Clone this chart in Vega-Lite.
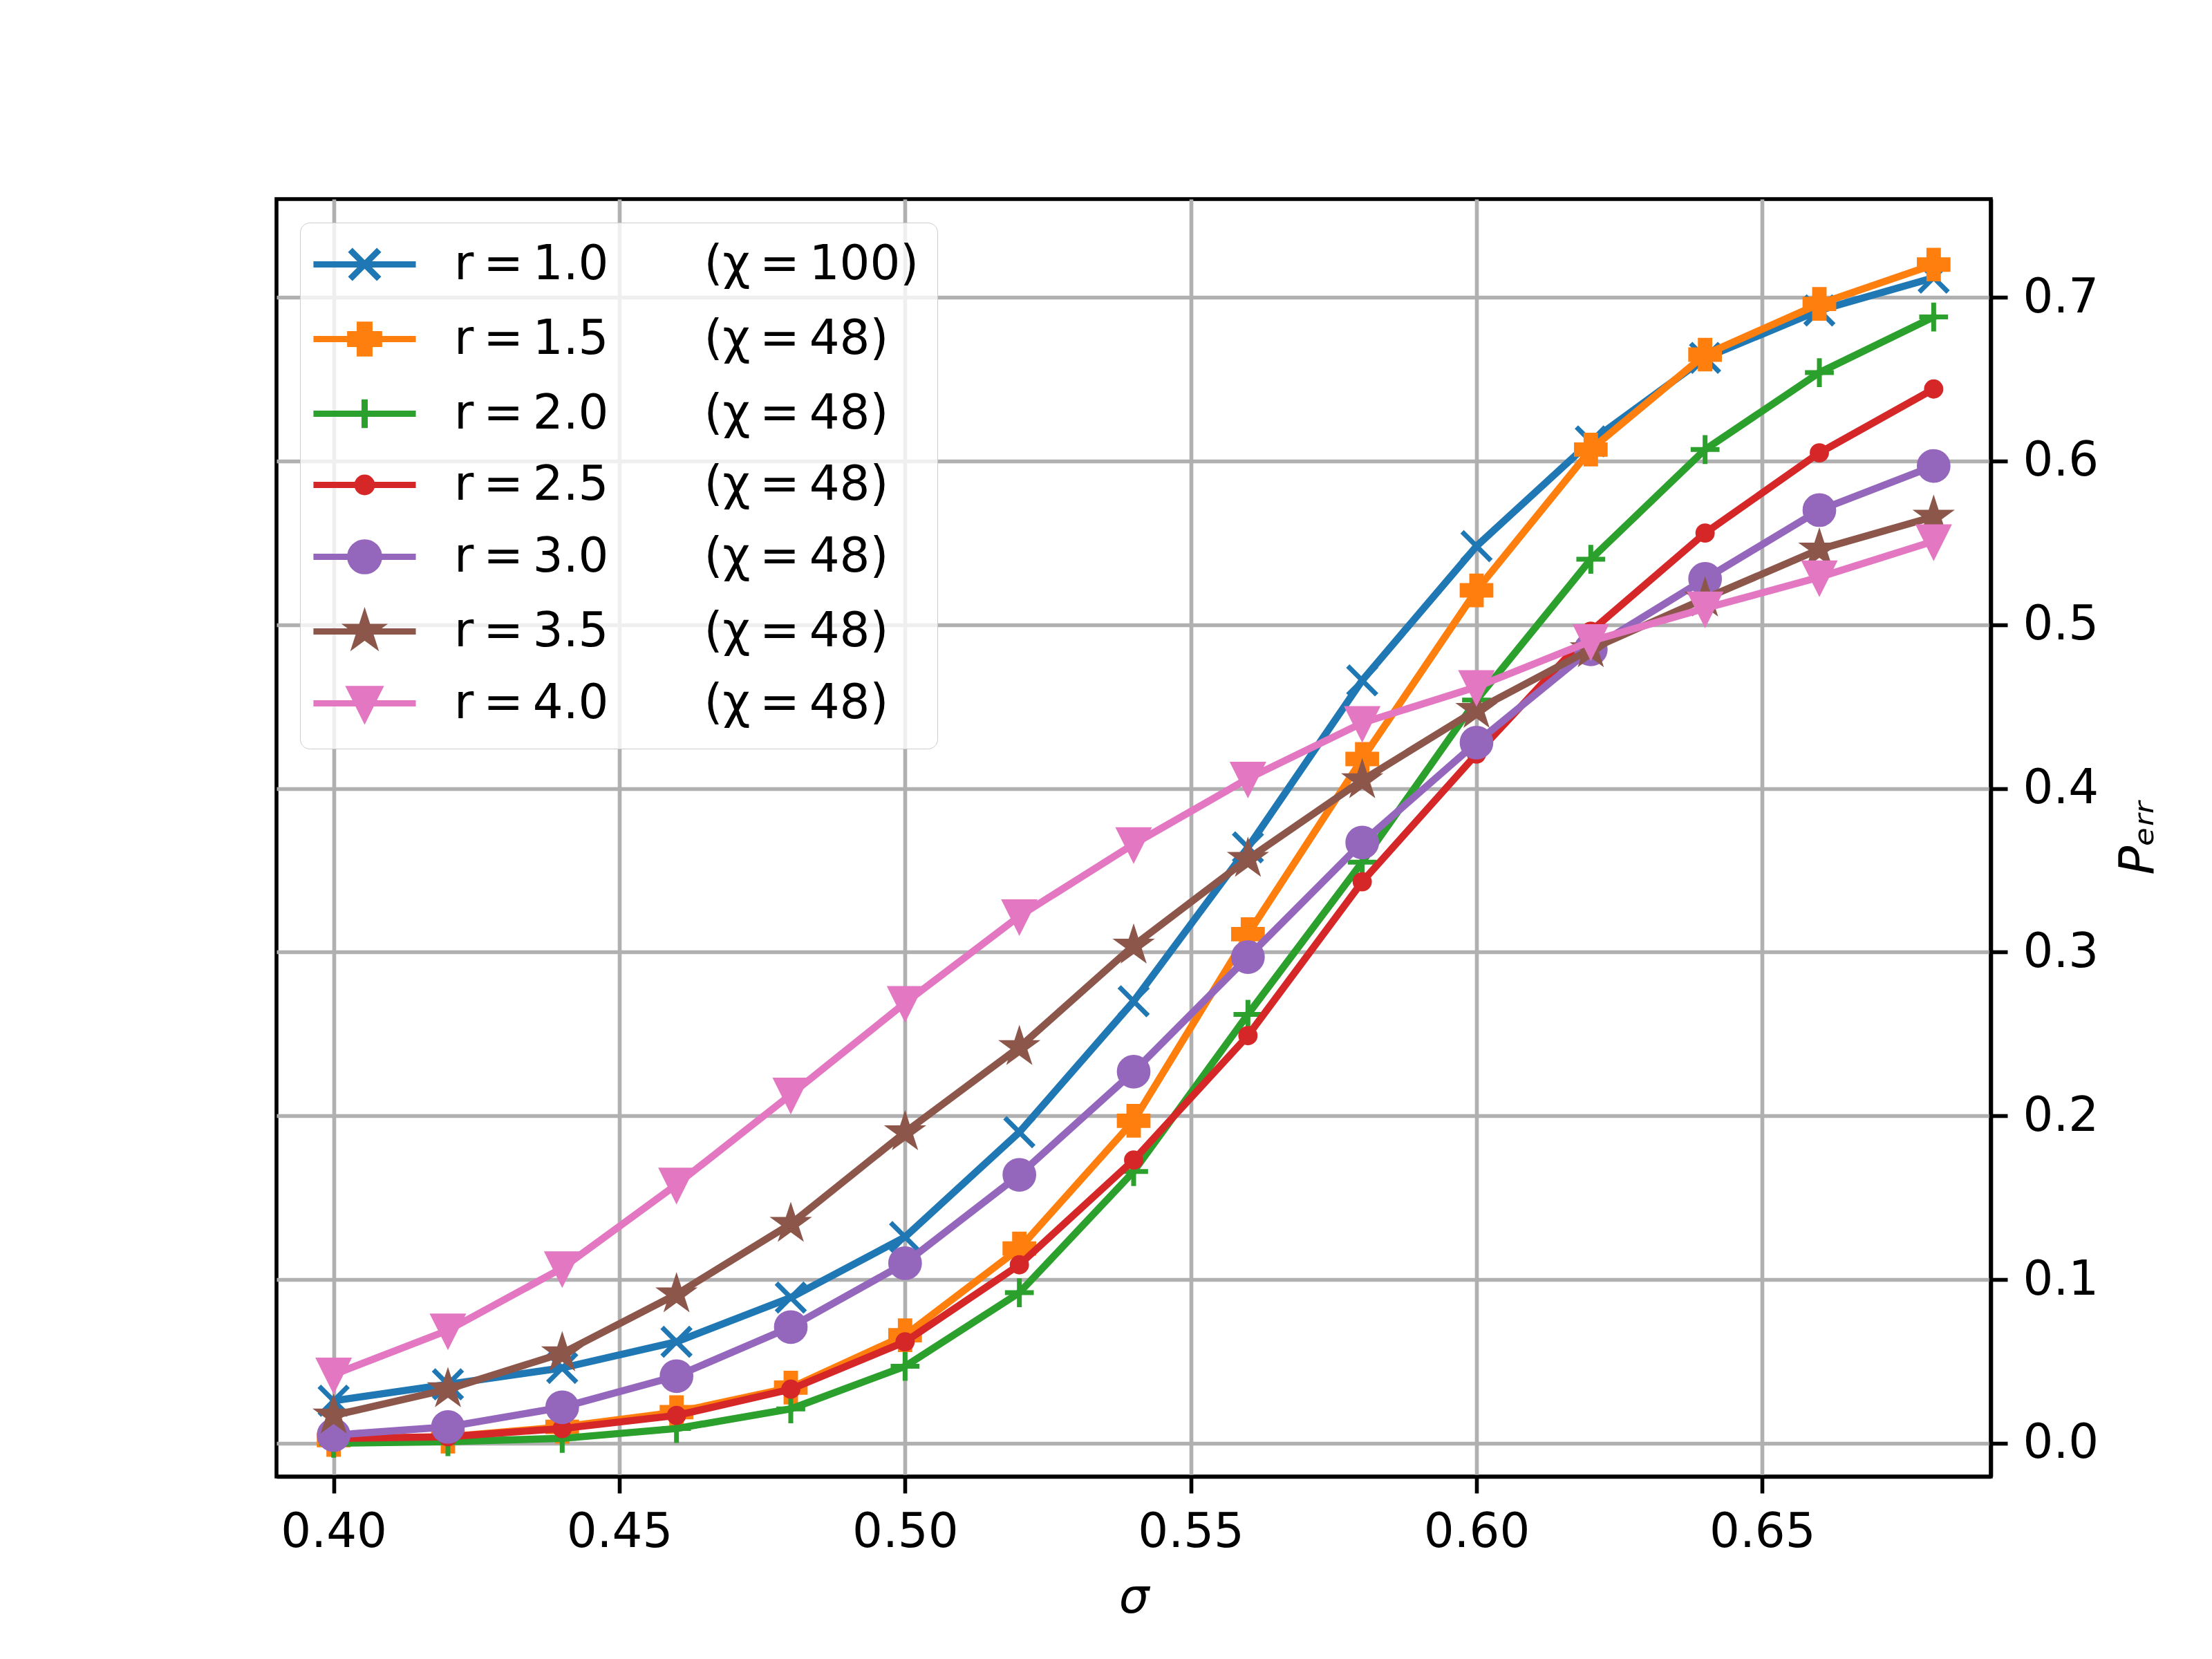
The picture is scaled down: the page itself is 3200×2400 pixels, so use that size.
{
  "$schema": "https://vega.github.io/schema/vega-lite/v6.json",
  "width": 2480,
  "height": 1848,
  "autosize": {"type": "none"},
  "padding": {"left": 400, "top": 288, "right": 320, "bottom": 264},
  "background": "white",
  "datasets": {
    "perr": [
      {"sigma": 0.40, "p": 0.026, "series": "r\u2009=\u20091.0\u2003\u2003(χ\u2009=\u2009100)"},
      {"sigma": 0.42, "p": 0.036, "series": "r\u2009=\u20091.0\u2003\u2003(χ\u2009=\u2009100)"},
      {"sigma": 0.44, "p": 0.046, "series": "r\u2009=\u20091.0\u2003\u2003(χ\u2009=\u2009100)"},
      {"sigma": 0.46, "p": 0.062, "series": "r\u2009=\u20091.0\u2003\u2003(χ\u2009=\u2009100)"},
      {"sigma": 0.48, "p": 0.089, "series": "r\u2009=\u20091.0\u2003\u2003(χ\u2009=\u2009100)"},
      {"sigma": 0.50, "p": 0.126, "series": "r\u2009=\u20091.0\u2003\u2003(χ\u2009=\u2009100)"},
      {"sigma": 0.52, "p": 0.190, "series": "r\u2009=\u20091.0\u2003\u2003(χ\u2009=\u2009100)"},
      {"sigma": 0.54, "p": 0.270, "series": "r\u2009=\u20091.0\u2003\u2003(χ\u2009=\u2009100)"},
      {"sigma": 0.56, "p": 0.364, "series": "r\u2009=\u20091.0\u2003\u2003(χ\u2009=\u2009100)"},
      {"sigma": 0.58, "p": 0.466, "series": "r\u2009=\u20091.0\u2003\u2003(χ\u2009=\u2009100)"},
      {"sigma": 0.60, "p": 0.548, "series": "r\u2009=\u20091.0\u2003\u2003(χ\u2009=\u2009100)"},
      {"sigma": 0.62, "p": 0.612, "series": "r\u2009=\u20091.0\u2003\u2003(χ\u2009=\u2009100)"},
      {"sigma": 0.64, "p": 0.663, "series": "r\u2009=\u20091.0\u2003\u2003(χ\u2009=\u2009100)"},
      {"sigma": 0.66, "p": 0.692, "series": "r\u2009=\u20091.0\u2003\u2003(χ\u2009=\u2009100)"},
      {"sigma": 0.68, "p": 0.712, "series": "r\u2009=\u20091.0\u2003\u2003(χ\u2009=\u2009100)"},
      {"sigma": 0.40, "p": 0.002, "series": "r\u2009=\u20091.5\u2003\u2003(χ\u2009=\u200948)"},
      {"sigma": 0.42, "p": 0.004, "series": "r\u2009=\u20091.5\u2003\u2003(χ\u2009=\u200948)"},
      {"sigma": 0.44, "p": 0.010, "series": "r\u2009=\u20091.5\u2003\u2003(χ\u2009=\u200948)"},
      {"sigma": 0.46, "p": 0.019, "series": "r\u2009=\u20091.5\u2003\u2003(χ\u2009=\u200948)"},
      {"sigma": 0.48, "p": 0.034, "series": "r\u2009=\u20091.5\u2003\u2003(χ\u2009=\u200948)"},
      {"sigma": 0.50, "p": 0.066, "series": "r\u2009=\u20091.5\u2003\u2003(χ\u2009=\u200948)"},
      {"sigma": 0.52, "p": 0.119, "series": "r\u2009=\u20091.5\u2003\u2003(χ\u2009=\u200948)"},
      {"sigma": 0.54, "p": 0.197, "series": "r\u2009=\u20091.5\u2003\u2003(χ\u2009=\u200948)"},
      {"sigma": 0.56, "p": 0.311, "series": "r\u2009=\u20091.5\u2003\u2003(χ\u2009=\u200948)"},
      {"sigma": 0.58, "p": 0.418, "series": "r\u2009=\u20091.5\u2003\u2003(χ\u2009=\u200948)"},
      {"sigma": 0.60, "p": 0.521, "series": "r\u2009=\u20091.5\u2003\u2003(χ\u2009=\u200948)"},
      {"sigma": 0.62, "p": 0.607, "series": "r\u2009=\u20091.5\u2003\u2003(χ\u2009=\u200948)"},
      {"sigma": 0.64, "p": 0.665, "series": "r\u2009=\u20091.5\u2003\u2003(χ\u2009=\u200948)"},
      {"sigma": 0.66, "p": 0.696, "series": "r\u2009=\u20091.5\u2003\u2003(χ\u2009=\u200948)"},
      {"sigma": 0.68, "p": 0.720, "series": "r\u2009=\u20091.5\u2003\u2003(χ\u2009=\u200948)"},
      {"sigma": 0.40, "p": 0.000, "series": "r\u2009=\u20092.0\u2003\u2003(χ\u2009=\u200948)"},
      {"sigma": 0.42, "p": 0.001, "series": "r\u2009=\u20092.0\u2003\u2003(χ\u2009=\u200948)"},
      {"sigma": 0.44, "p": 0.003, "series": "r\u2009=\u20092.0\u2003\u2003(χ\u2009=\u200948)"},
      {"sigma": 0.46, "p": 0.009, "series": "r\u2009=\u20092.0\u2003\u2003(χ\u2009=\u200948)"},
      {"sigma": 0.48, "p": 0.021, "series": "r\u2009=\u20092.0\u2003\u2003(χ\u2009=\u200948)"},
      {"sigma": 0.50, "p": 0.047, "series": "r\u2009=\u20092.0\u2003\u2003(χ\u2009=\u200948)"},
      {"sigma": 0.52, "p": 0.092, "series": "r\u2009=\u20092.0\u2003\u2003(χ\u2009=\u200948)"},
      {"sigma": 0.54, "p": 0.166, "series": "r\u2009=\u20092.0\u2003\u2003(χ\u2009=\u200948)"},
      {"sigma": 0.56, "p": 0.262, "series": "r\u2009=\u20092.0\u2003\u2003(χ\u2009=\u200948)"},
      {"sigma": 0.58, "p": 0.355, "series": "r\u2009=\u20092.0\u2003\u2003(χ\u2009=\u200948)"},
      {"sigma": 0.60, "p": 0.454, "series": "r\u2009=\u20092.0\u2003\u2003(χ\u2009=\u200948)"},
      {"sigma": 0.62, "p": 0.540, "series": "r\u2009=\u20092.0\u2003\u2003(χ\u2009=\u200948)"},
      {"sigma": 0.64, "p": 0.607, "series": "r\u2009=\u20092.0\u2003\u2003(χ\u2009=\u200948)"},
      {"sigma": 0.66, "p": 0.654, "series": "r\u2009=\u20092.0\u2003\u2003(χ\u2009=\u200948)"},
      {"sigma": 0.68, "p": 0.688, "series": "r\u2009=\u20092.0\u2003\u2003(χ\u2009=\u200948)"},
      {"sigma": 0.40, "p": 0.003, "series": "r\u2009=\u20092.5\u2003\u2003(χ\u2009=\u200948)"},
      {"sigma": 0.42, "p": 0.004, "series": "r\u2009=\u20092.5\u2003\u2003(χ\u2009=\u200948)"},
      {"sigma": 0.44, "p": 0.009, "series": "r\u2009=\u20092.5\u2003\u2003(χ\u2009=\u200948)"},
      {"sigma": 0.46, "p": 0.017, "series": "r\u2009=\u20092.5\u2003\u2003(χ\u2009=\u200948)"},
      {"sigma": 0.48, "p": 0.033, "series": "r\u2009=\u20092.5\u2003\u2003(χ\u2009=\u200948)"},
      {"sigma": 0.50, "p": 0.062, "series": "r\u2009=\u20092.5\u2003\u2003(χ\u2009=\u200948)"},
      {"sigma": 0.52, "p": 0.109, "series": "r\u2009=\u20092.5\u2003\u2003(χ\u2009=\u200948)"},
      {"sigma": 0.54, "p": 0.173, "series": "r\u2009=\u20092.5\u2003\u2003(χ\u2009=\u200948)"},
      {"sigma": 0.56, "p": 0.249, "series": "r\u2009=\u20092.5\u2003\u2003(χ\u2009=\u200948)"},
      {"sigma": 0.58, "p": 0.343, "series": "r\u2009=\u20092.5\u2003\u2003(χ\u2009=\u200948)"},
      {"sigma": 0.60, "p": 0.421, "series": "r\u2009=\u20092.5\u2003\u2003(χ\u2009=\u200948)"},
      {"sigma": 0.62, "p": 0.496, "series": "r\u2009=\u20092.5\u2003\u2003(χ\u2009=\u200948)"},
      {"sigma": 0.64, "p": 0.556, "series": "r\u2009=\u20092.5\u2003\u2003(χ\u2009=\u200948)"},
      {"sigma": 0.66, "p": 0.605, "series": "r\u2009=\u20092.5\u2003\u2003(χ\u2009=\u200948)"},
      {"sigma": 0.68, "p": 0.644, "series": "r\u2009=\u20092.5\u2003\u2003(χ\u2009=\u200948)"},
      {"sigma": 0.40, "p": 0.005, "series": "r\u2009=\u20093.0\u2003\u2003(χ\u2009=\u200948)"},
      {"sigma": 0.42, "p": 0.010, "series": "r\u2009=\u20093.0\u2003\u2003(χ\u2009=\u200948)"},
      {"sigma": 0.44, "p": 0.022, "series": "r\u2009=\u20093.0\u2003\u2003(χ\u2009=\u200948)"},
      {"sigma": 0.46, "p": 0.041, "series": "r\u2009=\u20093.0\u2003\u2003(χ\u2009=\u200948)"},
      {"sigma": 0.48, "p": 0.071, "series": "r\u2009=\u20093.0\u2003\u2003(χ\u2009=\u200948)"},
      {"sigma": 0.50, "p": 0.110, "series": "r\u2009=\u20093.0\u2003\u2003(χ\u2009=\u200948)"},
      {"sigma": 0.52, "p": 0.164, "series": "r\u2009=\u20093.0\u2003\u2003(χ\u2009=\u200948)"},
      {"sigma": 0.54, "p": 0.227, "series": "r\u2009=\u20093.0\u2003\u2003(χ\u2009=\u200948)"},
      {"sigma": 0.56, "p": 0.297, "series": "r\u2009=\u20093.0\u2003\u2003(χ\u2009=\u200948)"},
      {"sigma": 0.58, "p": 0.367, "series": "r\u2009=\u20093.0\u2003\u2003(χ\u2009=\u200948)"},
      {"sigma": 0.60, "p": 0.428, "series": "r\u2009=\u20093.0\u2003\u2003(χ\u2009=\u200948)"},
      {"sigma": 0.62, "p": 0.485, "series": "r\u2009=\u20093.0\u2003\u2003(χ\u2009=\u200948)"},
      {"sigma": 0.64, "p": 0.528, "series": "r\u2009=\u20093.0\u2003\u2003(χ\u2009=\u200948)"},
      {"sigma": 0.66, "p": 0.570, "series": "r\u2009=\u20093.0\u2003\u2003(χ\u2009=\u200948)"},
      {"sigma": 0.68, "p": 0.597, "series": "r\u2009=\u20093.0\u2003\u2003(χ\u2009=\u200948)"},
      {"sigma": 0.40, "p": 0.017, "series": "r\u2009=\u20093.5\u2003\u2003(χ\u2009=\u200948)"},
      {"sigma": 0.42, "p": 0.033, "series": "r\u2009=\u20093.5\u2003\u2003(χ\u2009=\u200948)"},
      {"sigma": 0.44, "p": 0.055, "series": "r\u2009=\u20093.5\u2003\u2003(χ\u2009=\u200948)"},
      {"sigma": 0.46, "p": 0.091, "series": "r\u2009=\u20093.5\u2003\u2003(χ\u2009=\u200948)"},
      {"sigma": 0.48, "p": 0.134, "series": "r\u2009=\u20093.5\u2003\u2003(χ\u2009=\u200948)"},
      {"sigma": 0.50, "p": 0.190, "series": "r\u2009=\u20093.5\u2003\u2003(χ\u2009=\u200948)"},
      {"sigma": 0.52, "p": 0.242, "series": "r\u2009=\u20093.5\u2003\u2003(χ\u2009=\u200948)"},
      {"sigma": 0.54, "p": 0.304, "series": "r\u2009=\u20093.5\u2003\u2003(χ\u2009=\u200948)"},
      {"sigma": 0.56, "p": 0.357, "series": "r\u2009=\u20093.5\u2003\u2003(χ\u2009=\u200948)"},
      {"sigma": 0.58, "p": 0.405, "series": "r\u2009=\u20093.5\u2003\u2003(χ\u2009=\u200948)"},
      {"sigma": 0.60, "p": 0.448, "series": "r\u2009=\u20093.5\u2003\u2003(χ\u2009=\u200948)"},
      {"sigma": 0.62, "p": 0.485, "series": "r\u2009=\u20093.5\u2003\u2003(χ\u2009=\u200948)"},
      {"sigma": 0.64, "p": 0.516, "series": "r\u2009=\u20093.5\u2003\u2003(χ\u2009=\u200948)"},
      {"sigma": 0.66, "p": 0.546, "series": "r\u2009=\u20093.5\u2003\u2003(χ\u2009=\u200948)"},
      {"sigma": 0.68, "p": 0.566, "series": "r\u2009=\u20093.5\u2003\u2003(χ\u2009=\u200948)"},
      {"sigma": 0.40, "p": 0.042, "series": "r\u2009=\u20094.0\u2003\u2003(χ\u2009=\u200948)"},
      {"sigma": 0.42, "p": 0.069, "series": "r\u2009=\u20094.0\u2003\u2003(χ\u2009=\u200948)"},
      {"sigma": 0.44, "p": 0.107, "series": "r\u2009=\u20094.0\u2003\u2003(χ\u2009=\u200948)"},
      {"sigma": 0.46, "p": 0.158, "series": "r\u2009=\u20094.0\u2003\u2003(χ\u2009=\u200948)"},
      {"sigma": 0.48, "p": 0.213, "series": "r\u2009=\u20094.0\u2003\u2003(χ\u2009=\u200948)"},
      {"sigma": 0.50, "p": 0.269, "series": "r\u2009=\u20094.0\u2003\u2003(χ\u2009=\u200948)"},
      {"sigma": 0.52, "p": 0.322, "series": "r\u2009=\u20094.0\u2003\u2003(χ\u2009=\u200948)"},
      {"sigma": 0.54, "p": 0.366, "series": "r\u2009=\u20094.0\u2003\u2003(χ\u2009=\u200948)"},
      {"sigma": 0.56, "p": 0.406, "series": "r\u2009=\u20094.0\u2003\u2003(χ\u2009=\u200948)"},
      {"sigma": 0.58, "p": 0.440, "series": "r\u2009=\u20094.0\u2003\u2003(χ\u2009=\u200948)"},
      {"sigma": 0.60, "p": 0.462, "series": "r\u2009=\u20094.0\u2003\u2003(χ\u2009=\u200948)"},
      {"sigma": 0.62, "p": 0.490, "series": "r\u2009=\u20094.0\u2003\u2003(χ\u2009=\u200948)"},
      {"sigma": 0.64, "p": 0.510, "series": "r\u2009=\u20094.0\u2003\u2003(χ\u2009=\u200948)"},
      {"sigma": 0.66, "p": 0.529, "series": "r\u2009=\u20094.0\u2003\u2003(χ\u2009=\u200948)"},
      {"sigma": 0.68, "p": 0.551, "series": "r\u2009=\u20094.0\u2003\u2003(χ\u2009=\u200948)"}
    ]
  },
  "data": {"name": "perr"},
  "encoding": {
    "x": {
      "field": "sigma",
      "type": "quantitative",
      "title": "σ",
      "scale": {"domain": [0.39, 0.69], "nice": false, "zero": false},
      "axis": {
        "orient": "bottom",
        "values": [0.40, 0.45, 0.50, 0.55, 0.60, 0.65],
        "format": ".2f",
        "labelPadding": 22,
        "titlePadding": 26,
        "titleFontStyle": "italic"
      }
    },
    "y": {
      "field": "p",
      "type": "quantitative",
      "title": "Pₑᵣᵣ",
      "scale": {"domain": [-0.0203, 0.76], "nice": false, "zero": false},
      "axis": {
        "orient": "right",
        "values": [0, 0.1, 0.2, 0.3, 0.4, 0.5, 0.6, 0.7],
        "format": ".1f",
        "labelPadding": 22,
        "titlePadding": 24,
        "titleAngle": 270,
        "titleBaseline": "top",
        "titleFontStyle": "italic"
      }
    },
    "color": {
      "field": "series",
      "type": "nominal",
      "scale": {
        "domain": [
          "r\u2009=\u20091.0\u2003\u2003(χ\u2009=\u2009100)",
          "r\u2009=\u20091.5\u2003\u2003(χ\u2009=\u200948)",
          "r\u2009=\u20092.0\u2003\u2003(χ\u2009=\u200948)",
          "r\u2009=\u20092.5\u2003\u2003(χ\u2009=\u200948)",
          "r\u2009=\u20093.0\u2003\u2003(χ\u2009=\u200948)",
          "r\u2009=\u20093.5\u2003\u2003(χ\u2009=\u200948)",
          "r\u2009=\u20094.0\u2003\u2003(χ\u2009=\u200948)"
        ],
        "range": ["#1f77b4", "#ff7f0e", "#2ca02c", "#d62728", "#9467bd", "#8c564b", "#e377c2"]
      },
      "legend": {
        "title": null,
        "orient": "top-left",
        "offset": 34,
        "padding": 26,
        "cornerRadius": 14,
        "fillColor": "rgba(255,255,255,0.8)",
        "strokeColor": "#cccccc",
        "symbolSize": 1740,
        "symbolStrokeWidth": 9,
        "symbolOffset": 33,
        "labelOffset": 95,
        "labelFontSize": 69,
        "labelLimit": 2000,
        "labelColor": "black",
        "rowPadding": 29,
        "encode": {
          "symbols": {
            "update": {
              "shape": {"signal": "['M-3.55,0H3.55M-1,-1L1,1M-1,1L1,-1', 'M-3.55,0H3.55M-1,-0.333H-0.333V-1H0.333V-0.333H1V0.333H0.333V1H-0.333V0.333H-1Z', 'M-3.55,0H3.55M0,-1V1', 'M-3.55,0H3.55M-0.5,0A0.5,0.5,0,1,1,0.5,0A0.5,0.5,0,1,1,-0.5,0Z', 'M-3.55,0H3.55M-1,0A1,1,0,1,1,1,0A1,1,0,1,1,-1,0Z', 'M-3.55,0H3.55M0,-1L0.2245,-0.309L0.951,-0.309L0.363,0.118L0.588,0.809L0,0.382L-0.588,0.809L-0.363,0.118L-0.951,-0.309L-0.2245,-0.309Z', 'M-3.55,0H3.55M-1,-1L1,-1L0,1Z'][indexof(domain('color'), datum.value)]"},
              "fill": {"signal": "scale('color', datum.value)"},
              "stroke": {"signal": "scale('color', datum.value)"},
              "strokeWidth": {"value": 9},
              "size": {"value": 1740},
              "opacity": {"value": 1}
            }
          }
        }
      }
    }
  },
  "layer": [
    {
      "transform": [{"filter": {"field": "series", "equal": "r\u2009=\u20091.0\u2003\u2003(χ\u2009=\u2009100)"}}],
      "mark": {"type": "line", "strokeWidth": 10.4, "strokeJoin": "round", "strokeCap": "square"}
    },
    {
      "transform": [{"filter": {"field": "series", "equal": "r\u2009=\u20091.0\u2003\u2003(χ\u2009=\u2009100)"}}],
      "mark": {"type": "point", "filled": true, "size": 1740, "strokeWidth": 7, "opacity": 1, "stroke": "#1f77b4", "shape": "M-1,-1L1,1M-1,1L1,-1"}
    },
    {
      "transform": [{"filter": {"field": "series", "equal": "r\u2009=\u20091.5\u2003\u2003(χ\u2009=\u200948)"}}],
      "mark": {"type": "line", "strokeWidth": 10.4, "strokeJoin": "round", "strokeCap": "square"}
    },
    {
      "transform": [{"filter": {"field": "series", "equal": "r\u2009=\u20091.5\u2003\u2003(χ\u2009=\u200948)"}}],
      "mark": {"type": "point", "filled": true, "size": 1740, "strokeWidth": 7, "opacity": 1, "stroke": "#ff7f0e", "shape": "M-1,-0.333H-0.333V-1H0.333V-0.333H1V0.333H0.333V1H-0.333V0.333H-1Z"}
    },
    {
      "transform": [{"filter": {"field": "series", "equal": "r\u2009=\u20092.0\u2003\u2003(χ\u2009=\u200948)"}}],
      "mark": {"type": "line", "strokeWidth": 10.4, "strokeJoin": "round", "strokeCap": "square"}
    },
    {
      "transform": [{"filter": {"field": "series", "equal": "r\u2009=\u20092.0\u2003\u2003(χ\u2009=\u200948)"}}],
      "mark": {"type": "point", "filled": true, "size": 1740, "strokeWidth": 7, "opacity": 1, "stroke": "#2ca02c", "shape": "M-1,0H1M0,-1V1"}
    },
    {
      "transform": [{"filter": {"field": "series", "equal": "r\u2009=\u20092.5\u2003\u2003(χ\u2009=\u200948)"}}],
      "mark": {"type": "line", "strokeWidth": 10.4, "strokeJoin": "round", "strokeCap": "square"}
    },
    {
      "transform": [{"filter": {"field": "series", "equal": "r\u2009=\u20092.5\u2003\u2003(χ\u2009=\u200948)"}}],
      "mark": {"type": "point", "filled": true, "size": 1740, "strokeWidth": 7, "opacity": 1, "stroke": "#d62728", "shape": "M-0.5,0A0.5,0.5,0,1,1,0.5,0A0.5,0.5,0,1,1,-0.5,0Z"}
    },
    {
      "transform": [{"filter": {"field": "series", "equal": "r\u2009=\u20093.0\u2003\u2003(χ\u2009=\u200948)"}}],
      "mark": {"type": "line", "strokeWidth": 10.4, "strokeJoin": "round", "strokeCap": "square"}
    },
    {
      "transform": [{"filter": {"field": "series", "equal": "r\u2009=\u20093.0\u2003\u2003(χ\u2009=\u200948)"}}],
      "mark": {"type": "point", "filled": true, "size": 1740, "strokeWidth": 7, "opacity": 1, "stroke": "#9467bd", "shape": "M-1,0A1,1,0,1,1,1,0A1,1,0,1,1,-1,0Z"}
    },
    {
      "transform": [{"filter": {"field": "series", "equal": "r\u2009=\u20093.5\u2003\u2003(χ\u2009=\u200948)"}}],
      "mark": {"type": "line", "strokeWidth": 10.4, "strokeJoin": "round", "strokeCap": "square"}
    },
    {
      "transform": [{"filter": {"field": "series", "equal": "r\u2009=\u20093.5\u2003\u2003(χ\u2009=\u200948)"}}],
      "mark": {"type": "point", "filled": true, "size": 1740, "strokeWidth": 7, "opacity": 1, "stroke": "#8c564b", "shape": "M0,-1L0.2245,-0.309L0.951,-0.309L0.363,0.118L0.588,0.809L0,0.382L-0.588,0.809L-0.363,0.118L-0.951,-0.309L-0.2245,-0.309Z"}
    },
    {
      "transform": [{"filter": {"field": "series", "equal": "r\u2009=\u20094.0\u2003\u2003(χ\u2009=\u200948)"}}],
      "mark": {"type": "line", "strokeWidth": 10.4, "strokeJoin": "round", "strokeCap": "square"}
    },
    {
      "transform": [{"filter": {"field": "series", "equal": "r\u2009=\u20094.0\u2003\u2003(χ\u2009=\u200948)"}}],
      "mark": {"type": "point", "filled": true, "size": 1740, "strokeWidth": 7, "opacity": 1, "stroke": "#e377c2", "shape": "M-1,-1L1,-1L0,1Z"}
    }
  ],
  "view": {"stroke": "black", "strokeWidth": 5.6},
  "config": {
    "font": "DejaVu Sans",
    "axis": {
      "grid": true,
      "gridColor": "#b0b0b0",
      "gridWidth": 5.6,
      "domainColor": "black",
      "domainWidth": 5.6,
      "tickColor": "black",
      "tickWidth": 5.6,
      "tickSize": 24,
      "labelFontSize": 69,
      "labelColor": "black",
      "labelFlush": false,
      "labelFont": "DejaVu Sans",
      "titleFontSize": 69,
      "titleFontWeight": "normal",
      "titleColor": "black",
      "titleFont": "DejaVu Sans"
    }
  }
}
